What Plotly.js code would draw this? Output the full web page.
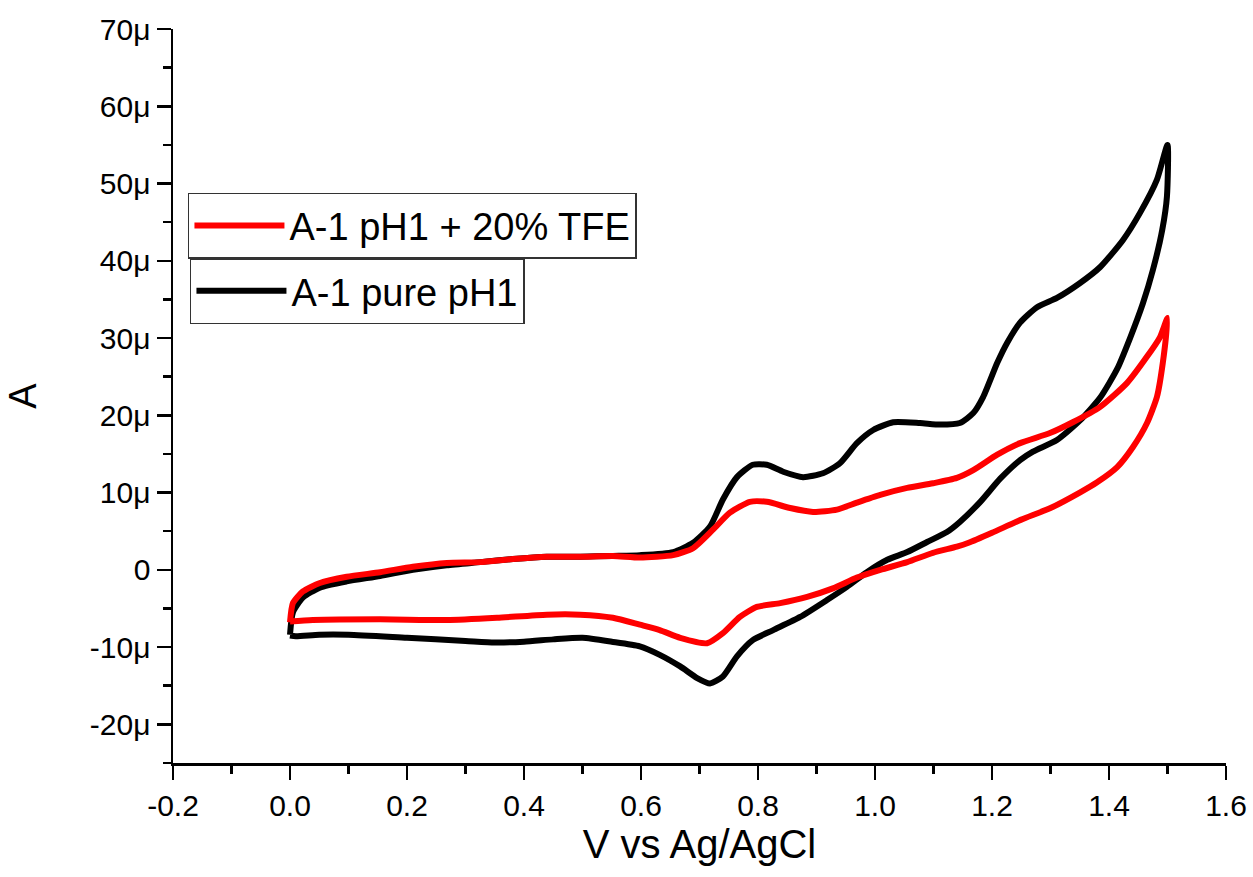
<!DOCTYPE html>
<html>
<head>
<meta charset="utf-8">
<script src="https://cdn.plot.ly/plotly-3.0.1.min.js"></script>
<style>html,body{margin:0;padding:0;background:#fff;}#chart{width:1253px;height:877px;}</style>
</head>
<body>
<div id="chart"></div>
<script>
// Potential (V vs Ag/AgCl) and current (µA)
var pureV = [0.000,0.005,0.022,0.051,0.097,0.154,0.210,0.268,0.325,0.381,0.439,0.496,0.552,0.598,0.655,0.689,0.718,0.740,0.764,0.791,0.815,0.843,0.877,0.911,0.940,0.969,0.997,1.031,1.077,1.111,1.145,1.168,1.185,1.209,1.226,1.248,1.277,1.311,1.350,1.385,1.424,1.453,1.482,1.500,
             1.499,1.491,1.475,1.458,1.436,1.414,1.385,1.350,1.311,1.270,1.248,1.214,1.180,1.145,1.123,1.089,1.055,1.021,0.986,0.952,0.918,0.872,0.826,0.791,0.764,0.740,0.718,0.696,0.667,0.632,0.598,0.550,0.500,0.450,0.400,0.350,0.300,0.200,0.100,0.050,0.010,0.000];
var pureI = [-8.4,-5.5,-3.6,-2.3,-1.5,-0.8,0.0,0.6,1.0,1.4,1.7,1.7,1.8,1.9,2.3,3.5,5.6,9.1,12.0,13.6,13.6,12.7,12.0,12.5,13.8,16.4,18.1,19.1,19.0,18.8,19.0,20.3,22.4,26.8,29.4,32.0,34.0,35.2,37.1,39.2,42.7,46.2,50.5,55.0,
             48.3,44.0,38.8,34.5,30.0,26.0,22.3,19.3,16.8,15.3,14.2,11.8,8.8,6.2,4.9,3.6,2.3,1.3,-0.3,-2.2,-3.9,-6.1,-7.8,-9.1,-11.2,-13.8,-14.7,-14.0,-12.5,-11.0,-9.9,-9.3,-8.8,-9.0,-9.3,-9.4,-9.2,-8.8,-8.4,-8.4,-8.6,-8.5];

var tfeV = [0.000,0.005,0.022,0.051,0.097,0.154,0.210,0.268,0.325,0.381,0.439,0.496,0.552,0.598,0.655,0.689,0.723,0.752,0.786,0.815,0.855,0.894,0.935,0.969,1.009,1.055,1.099,1.140,1.168,1.209,1.248,1.299,1.338,1.385,1.431,1.465,1.487,1.500,
            1.492,1.482,1.465,1.441,1.414,1.379,1.350,1.300,1.250,1.200,1.160,1.140,1.099,1.055,1.009,0.969,0.928,0.884,0.838,0.798,0.769,0.740,0.713,0.667,0.632,0.598,0.552,0.496,0.439,0.354,0.268,0.154,0.039,0.000];
var tfeI = [-6.8,-4.3,-2.8,-1.7,-0.9,-0.3,0.4,0.9,1.0,1.4,1.7,1.7,1.8,1.6,1.9,2.8,5.2,7.4,8.8,8.8,8.0,7.5,7.8,8.7,9.7,10.6,11.2,11.9,12.9,14.9,16.4,17.7,19.1,21.1,24.2,27.6,30.1,32.6,
            26.8,22.4,19.0,15.9,13.3,11.3,10.0,8.0,6.5,4.8,3.5,3.0,2.2,1.0,0.0,-1.0,-2.4,-3.5,-4.3,-4.8,-6.1,-8.2,-9.5,-8.8,-7.8,-7.1,-6.2,-5.8,-5.8,-6.2,-6.5,-6.4,-6.5,-6.7];

var seriesNames = ["A-1 pH1 + 20% TFE", "A-1 pure pH1"];
var yTickVals = [-20,-10,0,10,20,30,40,50,60,70];
var yTickText = ["-20μ","-10μ","0","10μ","20μ","30μ","40μ","50μ","60μ","70μ"];
var xTickVals = [-0.2,0,0.2,0.4,0.6,0.8,1.0,1.2,1.4,1.6];
var xTickText = ["-0.2","0.0","0.2","0.4","0.6","0.8","1.0","1.2","1.4","1.6"];

var FONT = "Liberation Sans, Arial, sans-serif";

var traces = [
  {x: pureV, y: pureI, name: seriesNames[1], mode: "lines", legend: "legend2",
   line: {color: "#000000", width: 6, shape: "spline", smoothing: 0.6}},
  {x: tfeV, y: tfeI, name: seriesNames[0], mode: "lines", legend: "legend",
   line: {color: "#ff0000", width: 6, shape: "spline", smoothing: 0.6}}
];

var axisCommon = {
  showgrid: false, zeroline: false, showline: true, linecolor: "#000", linewidth: 2.5,
  ticks: "outside", ticklen: 14, tickwidth: 2.5, tickcolor: "#000",
  tickfont: {family: FONT, size: 30, color: "#000"}, tickmode: "array"
};

var layout = {
  width: 1253, height: 877,
  margin: {l: 173, r: 27, t: 29, b: 114},
  paper_bgcolor: "#fff", plot_bgcolor: "#fff",
  font: {family: FONT, color: "#000"},
  xaxis: Object.assign({}, axisCommon, {
    range: [-0.2, 1.6], tickvals: xTickVals, ticktext: xTickText,
    minor: {ticks: "outside", ticklen: 8, tickwidth: 2.5, tickcolor: "#000", dtick: 0.1, tick0: -0.2, showgrid: false},
    title: {text: "V vs Ag/AgCl", font: {family: FONT, size: 40, color: "#000"}, standoff: 0}
  }),
  yaxis: Object.assign({}, axisCommon, {
    range: [-25, 70], tickvals: yTickVals, ticktext: yTickText,
    minor: {ticks: "outside", ticklen: 8, tickwidth: 2.5, tickcolor: "#000", dtick: 5, tick0: 0, showgrid: false},
    title: {text: "A", font: {family: FONT, size: 38, color: "#000"}, standoff: 42}
  }),
  legend: {
    x: 0.0142, y: 0.777, xanchor: "left", yanchor: "top",
    bgcolor: "#fff", bordercolor: "#333", borderwidth: 1.5,
    font: {family: FONT, size: 38, color: "#000"}, itemwidth: 90, tracegroupgap: 0
  },
  legend2: {
    x: 0.0161, y: 0.688, xanchor: "left", yanchor: "top",
    bgcolor: "#fff", bordercolor: "#333", borderwidth: 1.5,
    font: {family: FONT, size: 38, color: "#000"}, itemwidth: 90, tracegroupgap: 0
  },
  showlegend: true
};

Plotly.newPlot("chart", traces, layout, {displayModeBar: false, staticPlot: true});
</script>
</body>
</html>
